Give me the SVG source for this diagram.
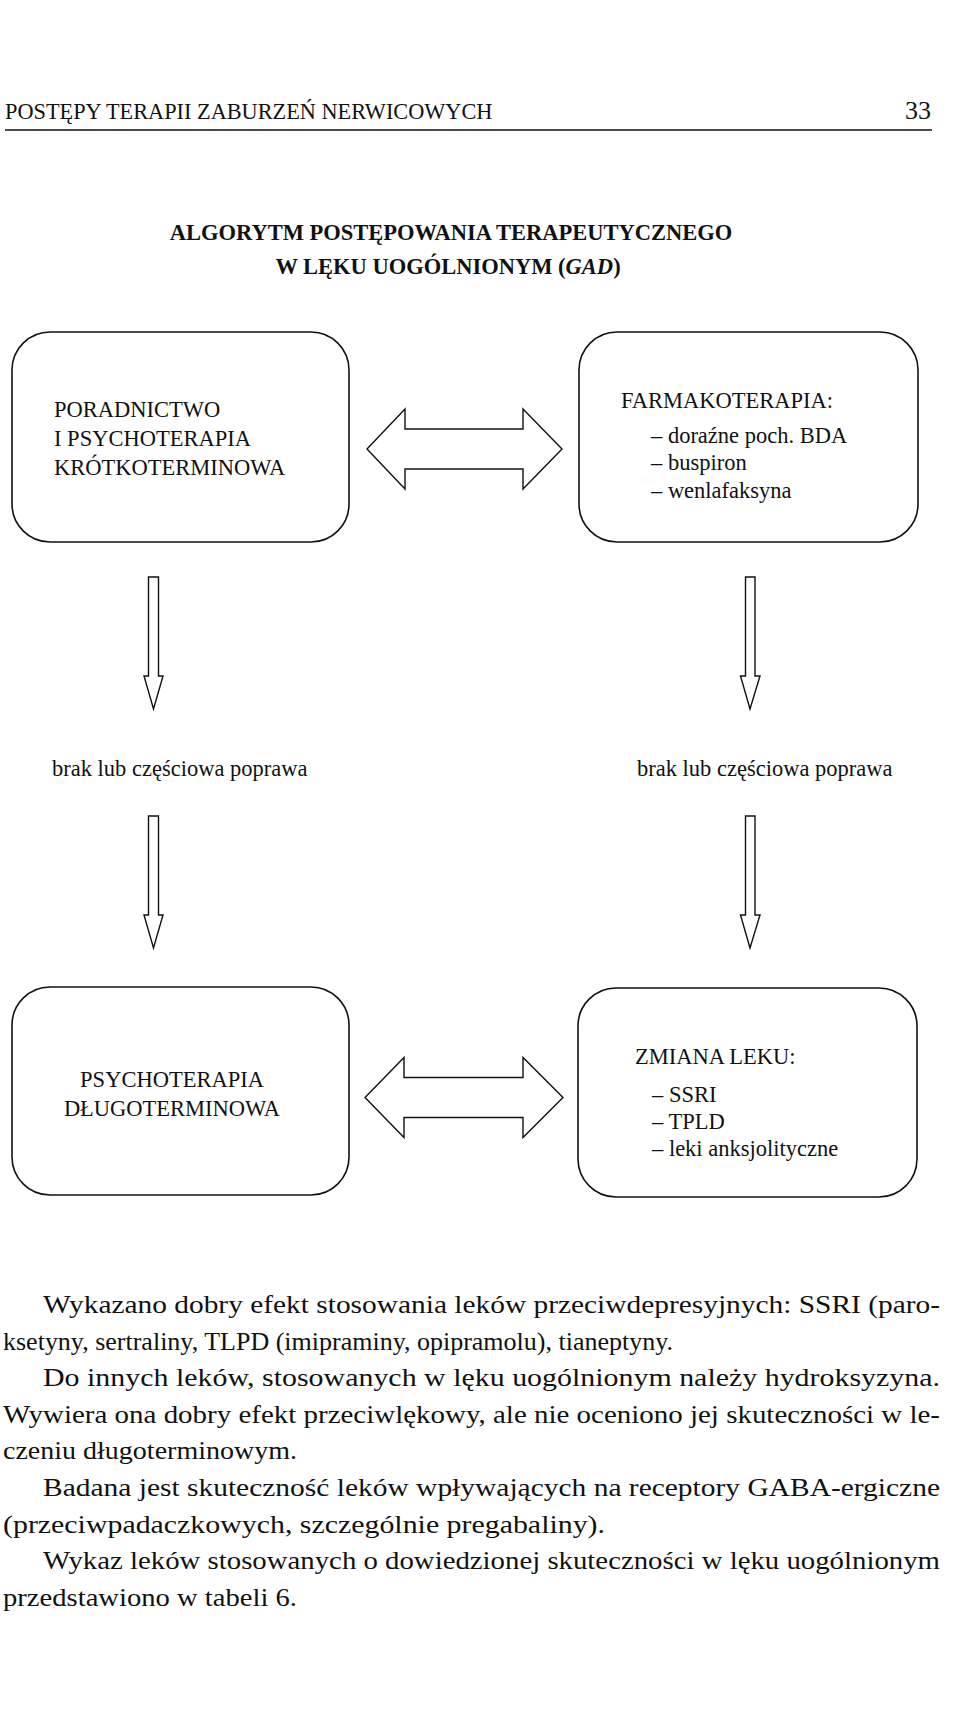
<svg xmlns="http://www.w3.org/2000/svg" width="960" height="1711" viewBox="0 0 960 1711">
<style>
.t{font-family:"Liberation Serif","Times New Roman",serif;fill:#111;}
.hd{font-size:22.3px;}
.ti{font-size:22.5px;font-weight:bold;}
.bx{font-size:22.5px;}
.bd{font-size:25px;}
.box{fill:#fff;stroke:#111;stroke-width:1.6;}
.arr{fill:#fff;stroke:#111;stroke-width:1.4;stroke-linejoin:miter;}
</style>
<rect width="960" height="1711" fill="#fff"/>
<g id="header">
<text class="t hd" x="5" y="119">POSTĘPY TERAPII ZABURZEŃ NERWICOWYCH</text>
<text class="t" x="931" y="119" font-size="26" text-anchor="end">33</text>
<line x1="5" y1="130" x2="932" y2="130" stroke="#111" stroke-width="1.6"/>
</g>
<g id="title">
<text class="t ti" x="451" y="240" text-anchor="middle">ALGORYTM POSTĘPOWANIA TERAPEUTYCZNEGO</text>
<text class="t ti" x="448" y="274" text-anchor="middle">W LĘKU UOGÓLNIONYM (<tspan font-style="italic">GAD</tspan>)</text>
</g>
<g id="node-poradnictwo">
<rect class="box" x="12" y="332" width="337" height="210" rx="38"/>
<text class="t bx" x="54" y="417">PORADNICTWO</text>
<text class="t bx" x="54" y="446">I PSYCHOTERAPIA</text>
<text class="t bx" x="54" y="475">KRÓTKOTERMINOWA</text>
</g>
<g id="node-farmakoterapia">
<rect class="box" x="579" y="332" width="339" height="210" rx="38"/>
<text class="t bx" x="621" y="408">FARMAKOTERAPIA:</text>
<text class="t bx" x="651" y="443">– doraźne poch. BDA</text>
<text class="t bx" x="651" y="470">– buspiron</text>
<text class="t bx" x="651" y="498">– wenlafaksyna</text>
</g>
<g id="label-left">
<text class="t bx" x="52" y="776">brak lub częściowa poprawa</text>
</g>
<g id="label-right">
<text class="t bx" x="637" y="776">brak lub częściowa poprawa</text>
</g>
<g id="node-psychoterapia">
<rect class="box" x="12" y="987" width="337" height="208" rx="38"/>
<text class="t bx" x="172" y="1087" text-anchor="middle">PSYCHOTERAPIA</text>
<text class="t bx" x="172" y="1116" text-anchor="middle">DŁUGOTERMINOWA</text>
</g>
<g id="node-zmiana">
<rect class="box" x="578" y="988" width="339" height="209" rx="38"/>
<text class="t bx" x="635" y="1064">ZMIANA LEKU:</text>
<text class="t bx" x="652" y="1102">– SSRI</text>
<text class="t bx" x="652" y="1129">– TPLD</text>
<text class="t bx" x="652" y="1156">– leki anksjolityczne</text>
</g>
<g id="connectors">
<path class="arr" d="M367,449 L405,409 L405,429 L523,429 L523,409 L562,449 L523,489 L523,469 L405,469 L405,489 Z"/>
<path class="arr" d="M365,1097.5 L404,1057.5 L404,1077.5 L523,1077.5 L523,1057.5 L563,1097.5 L523,1137.5 L523,1117.5 L404,1117.5 L404,1137.5 Z"/>
<path class="arr" d="M148.5,577 H158.5 V676 H163 L153.5,709 L144,676 H148.5 Z"/>
<path class="arr" d="M745.5,577 H755 V676 H760 L750,709 L740.5,676 H745.5 Z"/>
<path class="arr" d="M148.5,816 H158.5 V915 H163 L153.5,948 L144,915 H148.5 Z"/>
<path class="arr" d="M745.5,816 H755 V915 H760 L750,948 L740.5,915 H745.5 Z"/>
</g>
<g id="body-text">
<text class="t bd" x="43" y="1313" textLength="897" lengthAdjust="spacingAndGlyphs">Wykazano dobry efekt stosowania leków przeciwdepresyjnych: SSRI (paro-</text>
<text class="t bd" x="3" y="1349.6" textLength="670" lengthAdjust="spacingAndGlyphs">ksetyny, sertraliny, TLPD (imipraminy, opipramolu), tianeptyny.</text>
<text class="t bd" x="43" y="1386.2" textLength="897" lengthAdjust="spacingAndGlyphs">Do innych leków, stosowanych w lęku uogólnionym należy hydroksyzyna.</text>
<text class="t bd" x="3" y="1422.8" textLength="937" lengthAdjust="spacingAndGlyphs">Wywiera ona dobry efekt przeciwlękowy, ale nie oceniono jej skuteczności w le-</text>
<text class="t bd" x="3" y="1459.4" textLength="294" lengthAdjust="spacingAndGlyphs">czeniu długoterminowym.</text>
<text class="t bd" x="43" y="1496" textLength="897" lengthAdjust="spacingAndGlyphs">Badana jest skuteczność leków wpływających na receptory GABA-ergiczne</text>
<text class="t bd" x="3" y="1532.6" textLength="602" lengthAdjust="spacingAndGlyphs">(przeciwpadaczkowych, szczególnie pregabaliny).</text>
<text class="t bd" x="43" y="1569.2" textLength="897" lengthAdjust="spacingAndGlyphs">Wykaz leków stosowanych o dowiedzionej skuteczności w lęku uogólnionym</text>
<text class="t bd" x="3" y="1605.8" textLength="294" lengthAdjust="spacingAndGlyphs">przedstawiono w tabeli 6.</text>
</g>
</svg>
